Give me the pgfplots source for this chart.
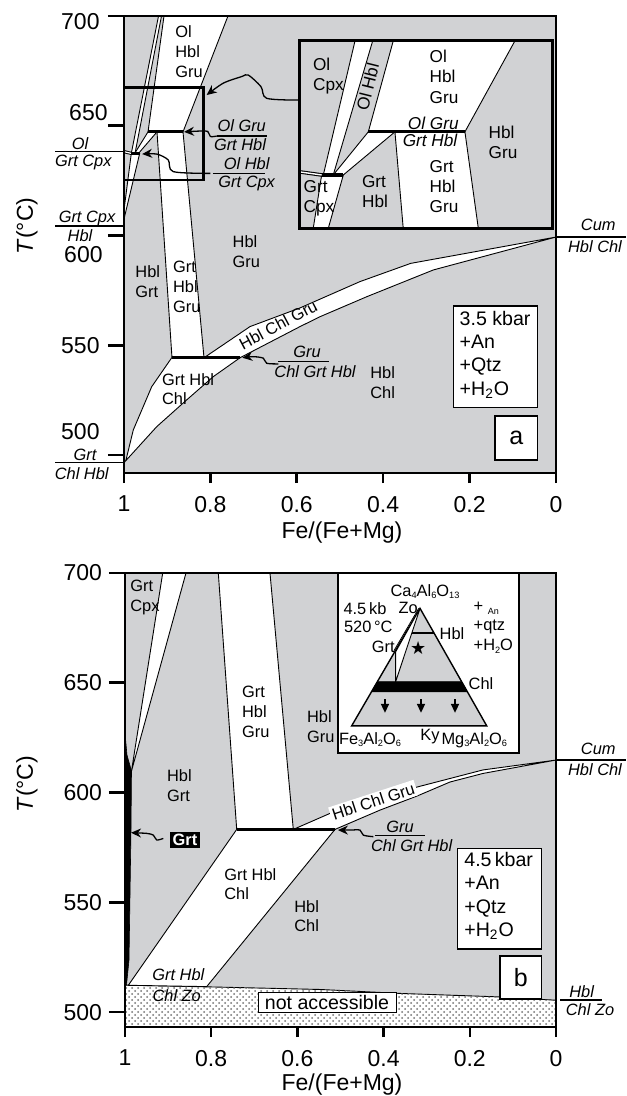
\documentclass[border=0pt]{standalone}
\usepackage{fontspec}
\setmainfont{Liberation Sans}
\newfontfamily\djv{DejaVu Sans}
\usepackage{pgfplots}
\pgfplotsset{compat=1.18}
\usetikzlibrary{patterns,arrows.meta}
\definecolor{fg}{RGB}{209,210,212}
\newcommand{\labf}{\fontsize{8.2}{9.9}\selectfont}
\newcommand{\insf}{\fontsize{8.6}{10.2}\selectfont}
\newcommand{\annf}{\fontsize{8.2}{9.5}\selectfont\itshape}
\newcommand{\tkf}{\fontsize{11.5}{13}\selectfont}
\newcommand{\boxf}{\fontsize{9.8}{11.6}\selectfont}
\newcommand{\trif}{\fontsize{8.2}{9.6}\selectfont}
\newcommand{\tsub}[1]{\raisebox{-1.3pt}{\fontsize{4.6}{5}\selectfont #1}}
\tikzset{
 lab/.style={font=\labf, inner sep=0pt, align=left},
 ilab/.style={font=\insf, inner sep=0pt, align=left},
 ann/.style={font=\annf, inner sep=0pt},
 tri/.style={font=\trif, inner sep=0pt, align=left},
}
\pgfplotsset{
 wf/.style={fill=white, draw=black, line width=0.45pt},
 thk/.style={black, line width=1.6pt},
 thn/.style={black, line width=0.6pt},
 arr/.style={black, line width=0.65pt, smooth, -{Stealth[length=5pt,width=4.5pt]}},
 main/.style={scale only axis, x dir=reverse, xmin=0, xmax=1, clip=false, axis on top,
   axis background/.style={fill=fg}, axis line style={line width=1.3pt},
   xtick={0,0.2,0.4,0.6,0.8,1}, xticklabels={0,0.2,0.4,0.6,0.8,1},
   ytick={500,550,600,650,700}, xtick pos=left, ytick pos=left,
   tick align=outside, major tick length=8pt, tick style={line width=1.3pt, black},
   xtick style={/pgfplots/major tick length=5pt},
   ticklabel style={font=\tkf}, /pgf/number format/assume math mode=true},
}
\begin{document}
\begin{tikzpicture}
\useasboundingbox (0,0) rectangle (313pt,-548pt);
% ================= PANEL A =================
\begin{axis}[main, at={(62pt,-236.5pt)}, anchor=south west, width=216pt, height=228.5pt,
  ymin=491.8, ymax=700, yticklabels={}]
\addplot[wf] coordinates {(0.9074,700) (0.7593,700) (0.8634,647.2) (0.9444,647.2)} -- cycle;
\addplot[wf] coordinates {(0.9201,700) (0.9132,700) (0.9745,637.4) (0.9831,637.4)} -- cycle;
\addplot[wf] coordinates {(0.9444,647.2) (0.9236,647.2) (0.9664,637.4) (0.9752,637.4)} -- cycle;
\addplot[wf] coordinates {(0.9831,637.4) (0.9637,637.4) (1,607.5) (1,611.6)} -- cycle;
\addplot[wf] coordinates {(0.9236,647.2) (0.8634,647.2) (0.8148,544.3) (0.8889,544.3)} -- cycle;
\addplot[wf] coordinates {(0.8896,544.3) (0.9359,531.1) (0.9785,511.4) (0.9954,497.7) (1,496.5) (0.9243,512.9) (0.8549,525.1) (0.7933,535.7) (0.7315,544.3)} -- cycle;
\addplot[wf] coordinates {(0.8148,544.3) (0.7083,558.5) (0.5926,567.0) (0.4537,579.0) (0.3363,587.3) (0,599.3) (0.2840,584.3) (0.4382,572.1) (0.5463,563.0) (0.5926,558.5) (0.7315,544.3)} -- cycle;
\addplot[black, line width=1.6pt] coordinates {(1,638.2) (0.9831,637.4)};
\addplot[white, line width=0.6pt] coordinates {(1,638.2) (0.9831,637.4)};
\addplot[thk] coordinates {(0.9444,647.2) (0.8634,647.2)};
\addplot[thk] coordinates {(0.9831,637.4) (0.9637,637.4)};
\addplot[thk] coordinates {(0.8896,544.3) (0.7315,544.3)};
\addplot[black, line width=1.2pt] coordinates {(1,625.3) (0.8164,625.3) (0.8164,667.5) (1,667.5)};
% arrows
\addplot[arr] coordinates {(0.7854,645.3) (0.800,645.1) (0.806,647.4) (0.822,647.6) (0.861,647.2)};
\addplot[arr] coordinates {(0.800,628.3) (0.8859,629.1) (0.8975,634.4) (0.9243,637.1) (0.958,637.1)};
\addplot[arr] coordinates {(0.5965,661.7) (0.6697,662.5) (0.6829,667.8) (0.7123,673.1) (0.7275,672.4) (0.7701,669.4) (0.8086,664.0)};
\addplot[arr] coordinates {(0.6428,541.5) (0.6697,541.8) (0.6775,544.1) (0.7007,544.8) (0.7260,544.3)};
% annotation lines
\addplot[thn] coordinates {(1.1597,638.2) (1,638.2)};
\addplot[thn] coordinates {(1.1597,604.3) (1,604.3)};
\addplot[thn] coordinates {(1.1597,496.5) (1,496.5)};
\addplot[thn] coordinates {(0.7854,645.3) (0.6697,645.3)};
\addplot[thn] coordinates {(0.794,628.3) (0.6736,628.3)};
\addplot[thn] coordinates {(0.6435,542.5) (0.5255,542.5)};
\addplot[thn] coordinates {(0,599.3) (-0.162,599.3)};
% tick labels
\node[font=\tkf, inner sep=0pt, anchor=east] at (axis cs:1.0556,697.4) {700};
\node[font=\tkf, inner sep=0pt, anchor=east] at (axis cs:1.037,655.8) {650};
\node[font=\tkf, inner sep=0pt, anchor=east] at (axis cs:1.0486,591.1) {600};
\node[font=\tkf, inner sep=0pt, anchor=east] at (axis cs:1.0556,549.7) {550};
\node[font=\tkf, inner sep=0pt, anchor=east] at (axis cs:1.0556,510.6) {500};
% outside annotations
\node[ann] at (axis cs:1.1019,642.0) {Ol};
\node[ann] at (axis cs:1.0942,633.3) {Grt Cpx};
\node[ann] at (axis cs:1.0856,607.8) {Grt Cpx};
\node[ann] at (axis cs:1.1019,599.9) {Hbl};
\node[ann] at (axis cs:1.0903,500.0) {Grt};
\node[ann] at (axis cs:1.0979,491.7) {Chl Hbl};
\node[ann] at (axis cs:-0.0979,604.8) {Cum};
\node[ann] at (axis cs:-0.0903,594.9) {Hbl Chl};
\node[ann] at (axis cs:0.7275,649.9) {Ol Gru};
\node[ann] at (axis cs:0.7315,641.5) {Grt Hbl};
\node[ann] at (axis cs:0.716,632.9) {Ol Hbl};
\node[ann] at (axis cs:0.716,623.8) {Grt Cpx};
\node[ann] at (axis cs:0.5764,547.1) {Gru};
\node[ann] at (axis cs:0.5579,537.9) {Chl Grt Hbl};
% region labels
\node[lab, anchor=west] at (axis cs:0.882,683.7) {Ol\\Hbl\\Gru};
\node[lab, anchor=west] at (axis cs:0.7493,592.6) {Hbl\\Gru};
\node[lab, anchor=west] at (axis cs:0.9745,578.9) {Hbl\\Grt};
\node[lab, anchor=west] at (axis cs:0.8873,576.7) {Grt\\Hbl\\Gru};
\node[lab, rotate=28] at (axis cs:0.6430,559.3) {Hbl Chl Gru};
\node[lab, anchor=west] at (axis cs:0.9127,530.0) {Grt Hbl\\Chl};
\node[lab, anchor=west] at (axis cs:0.4306,532.8) {Hbl\\Chl};
\draw[fill=white, line width=0.7pt] (axis cs:0.2377,567.9) rectangle (axis cs:0.0424,521.6);
\node[font=\boxf, anchor=west, align=left, inner sep=0pt] at (axis cs:0.2238,545.7) {3.5 kbar\\+An\\+Qtz\\+H\textsubscript{2}O};
\draw[fill=white, line width=0.7pt] (axis cs:0.1412,517.8) rectangle (axis cs:0.0424,497.7);
\node[font=\fontsize{12.5}{14}\selectfont] at (axis cs:0.0919,507.7) {a};
\end{axis}
% ---- inset of panel a ----
\begin{axis}[at={(149.65pt,-114.15pt)}, anchor=south west, scale only axis, width=126.7pt, height=93.8pt,
  x dir=reverse, xmin=0.8164, xmax=1, ymin=625.3, ymax=667.5, xtick=\empty, ytick=\empty,
  axis background/.style={fill=fg}, axis line style={line width=1.3pt}, axis on top, clip=true]
\addplot[wf] coordinates {(0.9596,667.5) (0.9468,667.5) (0.9754,637.3) (0.9826,637.3)} -- cycle;
\addplot[wf] coordinates {(0.9319,667.5) (0.8437,667.5) (0.8800,647.0) (0.9500,647.0)} -- cycle;
\addplot[wf] coordinates {(0.9500,647.0) (0.9307,647.0) (0.9681,637.3) (0.9754,637.3)} -- cycle;
\addplot[wf] coordinates {(0.9838,637.3) (0.9681,637.3) (0.9790,625.3) (0.9899,625.3)} -- cycle;
\addplot[wf] coordinates {(0.9307,647.0) (0.8800,647.0) (0.8703,625.3) (0.9247,625.3)} -- cycle;
\addplot[black, line width=1.8pt] coordinates {(1,638.0) (0.9838,637.3)};
\addplot[white, line width=0.7pt] coordinates {(1,638.0) (0.9838,637.3)};
\addplot[thk] coordinates {(0.95,647.0) (0.88,647.0)};
\addplot[thk] coordinates {(0.9838,637.3) (0.9681,637.3)};
\node[ilab, anchor=west] at (axis cs:0.9903,659.6) {Ol\\Cpx};
\node[ilab, rotate=76] at (axis cs:0.9505,657.1) {Ol Hbl};
\node[ilab, anchor=west] at (axis cs:0.9058,659.4) {Ol\\Hbl\\Gru};
\node[font=\fontsize{8.6}{10}\selectfont\itshape, inner sep=0pt, anchor=south] at (axis cs:0.9029,647.4) {Ol Gru};
\node[font=\fontsize{8.6}{10}\selectfont\itshape, inner sep=0pt, anchor=north] at (axis cs:0.9053,646.5) {Grt Hbl};
\node[ilab, anchor=west] at (axis cs:0.8631,644.7) {Hbl\\Gru};
\node[ilab, anchor=west] at (axis cs:0.9058,634.7) {Grt\\Hbl\\Gru};
\node[ilab, anchor=west] at (axis cs:0.9548,633.6) {Grt\\Hbl};
\node[ilab, anchor=west] at (axis cs:0.9971,632.0) {Grt\\Cpx};
\end{axis}
% ================= PANEL B =================
\begin{axis}[main, at={(62.5pt,-513.5pt)}, anchor=south west, width=215.5pt, height=227pt,
  ymin=493.2, ymax=700]
\addplot[fill=white, draw=black, line width=0.45pt] coordinates {(1,493.2) (1,512.3) (0.8104,511.5) (0.5476,510.3) (0.3619,508.5) (0.1299,506.9) (0,505.4) (0,493.2)} -- cycle;
\addplot[pattern=crosshatch dots, pattern color=black!55, draw=none] coordinates {(1,493.2) (1,512.3) (0.8104,511.5) (0.5476,510.3) (0.3619,508.5) (0.1299,506.9) (0,505.4) (0,493.2)} -- cycle;
\addplot[wf] coordinates {(0.9125,700) (0.8585,700) (0.9849,609.8)} -- cycle;
\addplot[wf] coordinates {(0.7835,700) (0.6636,700) (0.6095,583.2) (0.7408,583.2)} -- cycle;
\addplot[wf] coordinates {(0.6095,583.2) (0.5174,591.1) (0.4084,598.0) (0.3225,602.5) (0.1694,610.3) (0,614.8) (0.1694,608.7) (0.2459,604.8) (0.3225,598.4) (0.4084,592.0) (0.5128,583.2)} -- cycle;
\addplot[wf] coordinates {(0.7408,583.2) (0.5128,583.2) (0.8104,511.6) (0.9923,512.2)} -- cycle;
\addplot[fill=black, draw=black, line width=0.3pt] coordinates {(1,627.1) (0.9954,617.1) (0.9849,609.8) (0.9861,582.9) (0.9907,523.7) (0.9965,512.3) (1,512.3)} -- cycle;
\addplot[thk] coordinates {(0.7408,583.2) (0.5128,583.2)};
% arrows
\addplot[arr] coordinates {(0.4239,579.9) (0.4471,580.6) (0.4548,582.9) (0.4780,582.9) (0.5060,582.9)};
\addplot[arr] coordinates {(0.9111,579.1) (0.9265,578.4) (0.9342,580.6) (0.9497,581.4) (0.9860,581.7)};
% annotation lines
\addplot[thn] coordinates {(0.42,580.6) (0.304,580.6)};
\addplot[thn] coordinates {(0,614.8) (-0.162,614.8)};
\addplot[thn] coordinates {(-0.0093,505.5) (-0.106,505.5)};
\node[ann] at (axis cs:0.3619,584.4) {Gru};
\node[ann] at (axis cs:0.3348,575.6) {Chl Grt Hbl};
\node[ann] at (axis cs:-0.098,620.1) {Cum};
\node[ann] at (axis cs:-0.0905,610.3) {Hbl Chl};
\node[ann] at (axis cs:-0.0596,509.3) {Hbl};
\node[ann] at (axis cs:-0.0789,500.9) {Chl Zo};
\node[ann] at (axis cs:0.8763,516.9) {Grt Hbl};
\node[ann] at (axis cs:0.8800,507.3) {Chl Zo};
% region labels
\node[lab, anchor=west] at (axis cs:0.9884,688.8) {Grt\\Cpx};
\node[lab, anchor=west] at (axis cs:0.7292,636.8) {Grt\\Hbl\\Gru};
\node[lab, anchor=west] at (axis cs:0.5784,630.0) {Hbl\\Gru};
\node[lab, anchor=west] at (axis cs:0.9033,603.0) {Hbl\\Grt};
\node[lab, anchor=west] at (axis cs:0.7703,558.3) {Grt Hbl\\Chl};
\node[lab, anchor=west] at (axis cs:0.6079,543.7) {Hbl\\Chl};
\node[lab, rotate=18, fill=white, inner sep=1pt] at (axis cs:0.4239,596.0) {Hbl Chl Gru};
\node[font=\labf\bfseries, fill=black, text=white, inner sep=1.3pt] at (axis cs:0.8608,578.4) {Grt};
\node[draw, fill=white, line width=0.4pt, font=\boxf, inner xsep=3.5pt, inner ysep=1.5pt] at (axis cs:0.5313,504.3) {not accessible};
\draw[fill=white, line width=0.7pt] (axis cs:0.2281,574.6) rectangle (axis cs:0.0332,528.7);
\node[font=\boxf, anchor=west, align=left, inner sep=0pt] at (axis cs:0.2135,552.9) {4.5\,kbar\\+An\\+Qtz\\+H\textsubscript{2}O};
\draw[fill=white, line width=0.7pt] (axis cs:0.1299,525.6) rectangle (axis cs:0.0332,505.9);
\node[font=\fontsize{12.5}{14}\selectfont] at (axis cs:0.0817,515.9) {b};
% triangle inset
\draw[fill=white, line width=1.1pt] (axis cs:0.5051,617.9) rectangle (axis cs:0.0852,700);
\addplot[fill=fg, draw=black, line width=0.7pt] coordinates {(0.3155,683.9) (0.4740,630.4) (0.1608,630.4)} -- cycle;
\addplot[black, line width=0.9pt] coordinates {(0.3493,672.5) (0.2826,672.5)};
\addplot[fill=black, draw=black, line width=0.3pt] coordinates {(0.4144,650.5) (0.2190,650.5) (0.2057,645.9) (0.4280,645.9)} -- cycle;
\addplot[wf] coordinates {(0.3155,683.9) (0.372,664.1) (0.372,650.5) (0.336,671.8)} -- cycle;
\addplot[black, line width=0.4pt] coordinates {(0.3185,683.9) (0.376,664.6)};
\addplot[black, line width=0.8pt, -{Triangle[length=4.5pt,width=4pt]}] coordinates {(0.3968,642.5) (0.3968,636.3)};
\addplot[black, line width=0.8pt, -{Triangle[length=4.5pt,width=4pt]}] coordinates {(0.3132,642.5) (0.3132,636.3)};
\addplot[black, line width=0.8pt, -{Triangle[length=4.5pt,width=4pt]}] coordinates {(0.2343,642.5) (0.2343,636.3)};
\node[inner sep=0pt, font=\djv\fontsize{9}{10}\selectfont] at (axis cs:0.3195,665.7) {★};
\node[tri] at (axis cs:0.3039,691.5) {Ca\tsub{4}Al\tsub{6}O\tsub{13}};
\node[tri] at (axis cs:0.3427,683.9) {Zo};
\node[tri] at (axis cs:0.4432,683.9) {4.5\,kb};
\node[tri] at (axis cs:0.4355,675.3) {520\,°C};
\node[tri] at (axis cs:0.1803,684.6) {+};
\node[font=\fontsize{4.5}{5}\selectfont, inner sep=0pt] at (axis cs:0.1455,682.4) {An};
\node[tri, anchor=west] at (axis cs:0.1919,675.3) {+qtz};
\node[tri, anchor=west] at (axis cs:0.1919,666.7) {+H\tsub{2}O};
\node[tri, anchor=west] at (axis cs:0.2708,672.5) {Hbl};
\node[tri] at (axis cs:0.4007,666.2) {Grt};
\node[tri, anchor=west] at (axis cs:0.2035,649.4) {Chl};
\node[tri] at (axis cs:0.4316,624.2) {Fe\tsub{3}Al\tsub{2}O\tsub{6}};
\node[tri] at (axis cs:0.2923,625.4) {Ky};
\node[tri] at (axis cs:0.1896,624.0) {Mg\tsub{3}Al\tsub{2}O\tsub{6}};
\end{axis}
% axis titles
\node[font=\fontsize{11.5}{13}\selectfont] at (171pt,-266.5pt) {Fe/(Fe+Mg)};
\node[font=\fontsize{11.5}{13}\selectfont] at (171pt,-542.5pt) {Fe/(Fe+Mg)};
\node[rotate=90, font=\fontsize{11.5}{13}\selectfont] at (13.5pt,-113pt) {\textit{T}(°C)};
\node[rotate=90, font=\fontsize{11.5}{13}\selectfont] at (13.5pt,-392pt) {\textit{T}(°C)};
\end{tikzpicture}
\end{document}
